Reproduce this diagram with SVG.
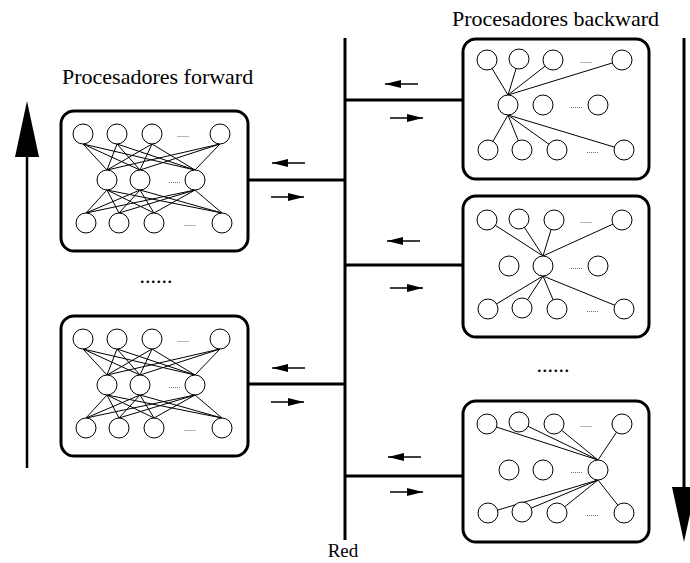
<svg xmlns="http://www.w3.org/2000/svg" width="690" height="563" viewBox="0 0 690 563">
  <style>
    .box { fill: #fff; stroke: #000; stroke-width: 3; }
    .n { fill: #fff; stroke: #000; stroke-width: 1; }
    .e { stroke: #000; stroke-width: 1; fill: none; }
    .net { stroke: #000; stroke-width: 3; fill: none; }
    .sa { stroke: #000; stroke-width: 1.3; fill: none; }
    .lbl { font-family: "Liberation Serif", "Times New Roman", serif; font-size: 22px; fill: #000; }
    .dots { font-family: "Liberation Serif", "Times New Roman", serif; font-size: 8px; fill: #000; text-anchor: middle; }
    .dotrow { filter: url(#flat); }
  </style>
  <defs>
    <marker id="ah" viewBox="0 0 16 8" refX="16" refY="4" markerWidth="16" markerHeight="8" markerUnits="userSpaceOnUse" orient="auto">
      <path d="M0,0 L16,4 L0,8 Z" fill="#000"/>
    </marker>
    <!-- identity filter: renders the small ellipsis marks in plain greyscale -->
    <filter id="flat" x="0" y="0" width="1" height="1">
      <feOffset dx="0" dy="0"/>
    </filter>
  </defs>
  <rect width="690" height="563" fill="#fff"/>

  <!-- titles -->
  <text class="lbl" x="62" y="84">Procesadores forward</text>
  <text class="lbl" x="452" y="26">Procesadores backward</text>
  <text class="lbl" x="156" y="283" text-anchor="middle">......</text>
  <text class="lbl" x="553" y="372" text-anchor="middle">......</text>
  <text class="lbl" x="343" y="557" text-anchor="middle" style="font-size:19px">Red</text>

  <!-- direction arrows -->
  <g id="up-arrow">
    <line x1="27" y1="468" x2="27" y2="150" stroke="#000" stroke-width="2.5"/>
    <path d="M27,101 L39,157 L15,157 Z" fill="#000"/>
  </g>
  <g id="down-arrow">
    <line x1="684" y1="38" x2="684" y2="492" stroke="#000" stroke-width="3"/>
    <path d="M684,542 L672,487 L696,487 Z" fill="#000"/>
  </g>

  <!-- network bus and links -->
  <g id="connectors">
    <line class="net" x1="345" y1="38" x2="345" y2="540"/>
    <line class="net" x1="248" y1="180" x2="345" y2="180"/>
    <line class="net" x1="248" y1="384" x2="345" y2="384"/>
    <line class="net" x1="345" y1="100" x2="463" y2="100"/>
    <line class="net" x1="345" y1="265" x2="463" y2="265"/>
    <line class="net" x1="345" y1="476" x2="463" y2="476"/>
    <!-- message arrows -->
    <line class="sa" x1="305" y1="163" x2="272" y2="163" marker-end="url(#ah)"/>
    <line class="sa" x1="271" y1="197" x2="304" y2="197" marker-end="url(#ah)"/>
    <line class="sa" x1="305" y1="368" x2="272" y2="368" marker-end="url(#ah)"/>
    <line class="sa" x1="271" y1="402" x2="304" y2="402" marker-end="url(#ah)"/>
    <line class="sa" x1="418" y1="84" x2="385" y2="84" marker-end="url(#ah)"/>
    <line class="sa" x1="390" y1="118" x2="423" y2="118" marker-end="url(#ah)"/>
    <line class="sa" x1="420" y1="241" x2="387" y2="241" marker-end="url(#ah)"/>
    <line class="sa" x1="390" y1="288" x2="423" y2="288" marker-end="url(#ah)"/>
    <line class="sa" x1="421" y1="457" x2="388" y2="457" marker-end="url(#ah)"/>
    <line class="sa" x1="390" y1="492" x2="423" y2="492" marker-end="url(#ah)"/>
  </g>

  <!-- forward processor 1 -->
  <g id="forward-1">
    <rect class="box" x="61" y="111" width="187" height="140" rx="13"/>
    <g class="e">
      <path d="M83,144 L107,170 M83,144 L140,170 M83,144 L195,170
               M117,144 L107,170 M117,144 L140,170 M117,144 L195,170
               M152,144 L107,170 M152,144 L140,170 M152,144 L195,170
               M220,144 L107,170 M220,144 L140,170 M220,144 L195,170
               M107,190 L86,213 M107,190 L119,213 M107,190 L154,213 M107,190 L222,213
               M140,190 L86,213 M140,190 L119,213 M140,190 L154,213 M140,190 L222,213
               M195,190 L86,213 M195,190 L119,213 M195,190 L154,213 M195,190 L222,213"/>
    </g>
    <circle class="n" cx="83" cy="134" r="10"/>
    <circle class="n" cx="117" cy="134" r="10"/>
    <circle class="n" cx="152" cy="134" r="10"/>
    <circle class="n" cx="220" cy="134" r="10"/>
    <circle class="n" cx="107" cy="180" r="10"/>
    <circle class="n" cx="140" cy="180" r="10"/>
    <circle class="n" cx="195" cy="180" r="10"/>
    <circle class="n" cx="86" cy="223" r="10"/>
    <circle class="n" cx="119" cy="223" r="10"/>
    <circle class="n" cx="154" cy="223" r="10"/>
    <circle class="n" cx="222" cy="223" r="10"/>
    <g class="dotrow">
      <text class="dots" x="183" y="137">......</text>
      <text class="dots" x="174.5" y="183">......</text>
      <text class="dots" x="190" y="226">......</text>
    </g>
  </g>

  <!-- forward processor 2 -->
  <g id="forward-2">
    <rect class="box" x="61" y="316" width="187" height="140" rx="13"/>
    <g class="e">
      <path d="M83,349 L107,375 M83,349 L140,375 M83,349 L195,375
               M117,349 L107,375 M117,349 L140,375 M117,349 L195,375
               M152,349 L107,375 M152,349 L140,375 M152,349 L195,375
               M220,349 L107,375 M220,349 L140,375 M220,349 L195,375
               M107,395 L86,418 M107,395 L119,418 M107,395 L154,418 M107,395 L222,418
               M140,395 L86,418 M140,395 L119,418 M140,395 L154,418 M140,395 L222,418
               M195,395 L86,418 M195,395 L119,418 M195,395 L154,418 M195,395 L222,418"/>
    </g>
    <circle class="n" cx="83" cy="339" r="10"/>
    <circle class="n" cx="117" cy="339" r="10"/>
    <circle class="n" cx="152" cy="339" r="10"/>
    <circle class="n" cx="220" cy="339" r="10"/>
    <circle class="n" cx="107" cy="385" r="10"/>
    <circle class="n" cx="140" cy="385" r="10"/>
    <circle class="n" cx="195" cy="385" r="10"/>
    <circle class="n" cx="86" cy="428" r="10"/>
    <circle class="n" cx="119" cy="428" r="10"/>
    <circle class="n" cx="154" cy="428" r="10"/>
    <circle class="n" cx="222" cy="428" r="10"/>
    <g class="dotrow">
      <text class="dots" x="183" y="342">......</text>
      <text class="dots" x="174.5" y="388">......</text>
      <text class="dots" x="190" y="431">......</text>
    </g>
  </g>

  <!-- backward processor 1 (hub: first middle node) -->
  <g id="backward-1">
    <rect class="box" x="463" y="39" width="186" height="140" rx="13"/>
    <g class="e">
      <path d="M508,95 L487,60 M508,95 L519,59 M508,95 L553,60 M508,95 L622,60
               M508,115 L488,150 M508,115 L522,150 M508,115 L557,150 M508,115 L624,150"/>
    </g>
    <circle class="n" cx="487" cy="60" r="10"/>
    <circle class="n" cx="519" cy="59" r="10"/>
    <circle class="n" cx="553" cy="60" r="10"/>
    <circle class="n" cx="622" cy="60" r="10"/>
    <circle class="n" cx="508" cy="105" r="10"/>
    <circle class="n" cx="543" cy="105" r="10"/>
    <circle class="n" cx="598" cy="105" r="10"/>
    <circle class="n" cx="488" cy="150" r="10"/>
    <circle class="n" cx="522" cy="150" r="10"/>
    <circle class="n" cx="557" cy="150" r="10"/>
    <circle class="n" cx="624" cy="150" r="10"/>
    <g class="dotrow">
      <text class="dots" x="586" y="63">......</text>
      <text class="dots" x="576.5" y="108">......</text>
      <text class="dots" x="592.5" y="153">......</text>
    </g>
  </g>

  <!-- backward processor 2 (hub: second middle node) -->
  <g id="backward-2">
    <rect class="box" x="463" y="196" width="186" height="141" rx="13"/>
    <g class="e">
      <path d="M543,256 L487,220 M543,256 L519,219 M543,256 L554,220 M543,256 L622,220
               M543,276 L488,309 M543,276 L522,308 M543,276 L557,309 M543,276 L624,309"/>
    </g>
    <circle class="n" cx="487" cy="220" r="10"/>
    <circle class="n" cx="519" cy="219" r="10"/>
    <circle class="n" cx="554" cy="220" r="10"/>
    <circle class="n" cx="622" cy="220" r="10"/>
    <circle class="n" cx="509" cy="266" r="10"/>
    <circle class="n" cx="543" cy="266" r="10"/>
    <circle class="n" cx="598" cy="266" r="10"/>
    <circle class="n" cx="488" cy="309" r="10"/>
    <circle class="n" cx="522" cy="308" r="10"/>
    <circle class="n" cx="557" cy="309" r="10"/>
    <circle class="n" cx="624" cy="309" r="10"/>
    <g class="dotrow">
      <text class="dots" x="586" y="223">......</text>
      <text class="dots" x="576.5" y="269">......</text>
      <text class="dots" x="592.5" y="312">......</text>
    </g>
  </g>

  <!-- backward processor 3 (hub: third middle node) -->
  <g id="backward-3">
    <rect class="box" x="463" y="401" width="186" height="141" rx="13"/>
    <g class="e">
      <path d="M598,460 L487,424 M598,460 L519,422 M598,460 L554,424 M598,460 L622,424
               M598,480 L488,513 M598,480 L522,512 M598,480 L557,513 M598,480 L624,513"/>
    </g>
    <circle class="n" cx="487" cy="424" r="10"/>
    <circle class="n" cx="519" cy="422" r="10"/>
    <circle class="n" cx="554" cy="424" r="10"/>
    <circle class="n" cx="622" cy="424" r="10"/>
    <circle class="n" cx="509" cy="470" r="10"/>
    <circle class="n" cx="543" cy="470" r="10"/>
    <circle class="n" cx="598" cy="470" r="10"/>
    <circle class="n" cx="488" cy="513" r="10"/>
    <circle class="n" cx="522" cy="512" r="10"/>
    <circle class="n" cx="557" cy="513" r="10"/>
    <circle class="n" cx="624" cy="513" r="10"/>
    <g class="dotrow">
      <text class="dots" x="586" y="427">......</text>
      <text class="dots" x="576.5" y="473">......</text>
      <text class="dots" x="592.5" y="516">......</text>
    </g>
  </g>
</svg>
